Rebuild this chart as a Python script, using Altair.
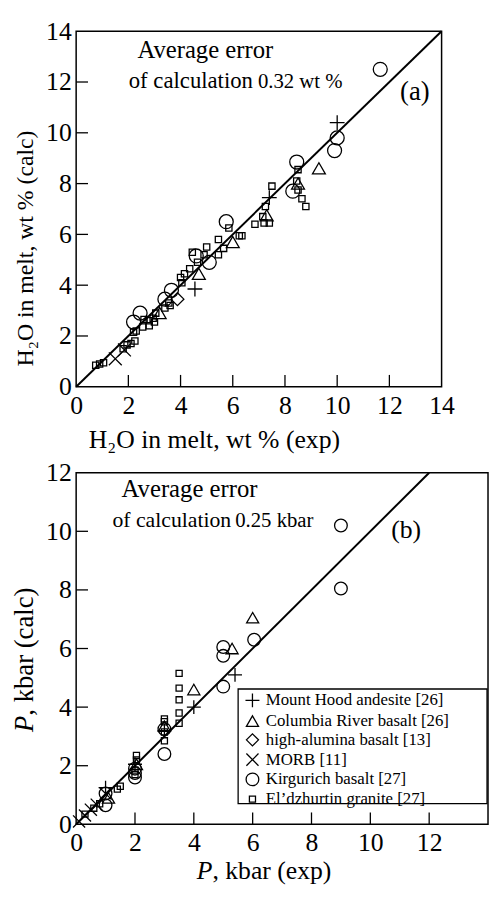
import altair as alt
import pandas as pd

FONT = "Liberation Serif"

# ---------------- data ----------------
series_names = ["Mount Hood andesite [26]", "Columbia River basalt [26]",
                "high-alumina basalt [13]", "MORB [11]",
                "Kirgurich basalt [27]", "El\u2019dzhurtin granite [27]"]

# panel (a): H2O in melt, wt % (exp) vs (calc)
a_hood_x = [10.0, 7.4, 4.55]
a_hood_y = [10.4, 7.45, 3.85]
a_col_x = [9.3, 8.5, 7.3, 6.0, 4.7, 3.2]
a_col_y = [8.6, 8.0, 6.75, 5.7, 4.45, 2.9]
a_hal_x = [3.88]
a_hal_y = [3.45]
a_morb_x = [1.5, 1.85]
a_morb_y = [1.1, 1.45]
a_kir_x = [11.65, 10.0, 9.9, 8.45, 8.3, 5.75, 4.6, 5.1, 3.65, 3.4, 2.45, 2.2]
a_kir_y = [12.5, 9.8, 9.3, 8.85, 7.7, 6.5, 5.15, 4.9, 3.8, 3.45, 2.9, 2.55]
a_eld_x = [8.5, 8.45, 8.5, 8.65, 8.8, 7.5, 7.25, 7.15, 7.2, 7.4, 6.85, 5.85, 6.25, 6.35,
           5.45, 5.65, 5.45, 5.0, 4.45, 4.9, 4.65, 4.35, 4.15, 4.0, 4.05, 3.55, 3.6, 3.4,
           3.05, 2.95, 2.8, 2.6, 2.55, 2.8, 3.0, 2.3, 2.2, 2.25, 2.1, 1.95, 1.8, 1.05, 0.9, 0.75]
a_eld_y = [8.55, 8.1, 7.75, 7.4, 7.1, 7.9, 7.1, 6.7, 6.45, 6.45, 6.4, 6.25, 5.95, 5.95,
           5.8, 5.45, 5.2, 5.5, 5.3, 5.2, 4.9, 4.65, 4.45, 4.3, 4.1, 3.3, 3.2, 3.1,
           2.9, 2.7, 2.6, 2.65, 2.35, 2.4, 2.55, 2.2, 2.15, 1.8, 1.7, 1.65, 1.5, 0.95, 0.9, 0.85]

# panel (b): P, kbar (exp) vs (calc)
b_hood_x = [5.4, 4.0, 3.0, 2.0, 1.0]
b_hood_y = [5.1, 4.0, 3.2, 2.05, 1.25]
b_col_x = [6.0, 5.3, 4.0, 3.0, 2.05, 1.1]
b_col_y = [7.05, 6.0, 4.6, 3.35, 2.05, 0.9]
b_hal_x = []
b_hal_y = []
b_morb_x = [0.1, 0.3, 0.5, 0.7, 1.0]
b_morb_y = [0.1, 0.3, 0.5, 0.67, 1.05]
b_kir_x = [9.0, 9.0, 6.05, 5.0, 5.0, 5.0, 3.0, 3.0, 2.0, 2.0, 2.0, 1.0, 1.0]
b_kir_y = [10.2, 8.05, 6.3, 6.05, 5.75, 4.7, 3.25, 2.4, 1.9, 1.75, 1.6, 1.05, 0.65]
b_eld_x = [3.5, 3.5, 3.5, 3.5, 3.5, 3.0, 3.0, 3.0, 3.0, 2.05, 2.05, 2.0, 2.0, 1.5, 1.4, 0.8, 0.6, 0.3]
b_eld_y = [5.15, 4.65, 4.25, 3.8, 3.45, 3.6, 3.5, 3.15, 2.85, 2.35, 2.2, 1.85, 1.7, 1.3, 1.2, 0.7, 0.55, 0.35]

a_line = [0, 14]
b_line = [0, 12]
a_ticks = [2, 4, 6, 8, 10, 12]
b_xticks = [2, 4, 6, 8, 10, 12]
b_yticks = [2, 4, 6, 8, 10]
a_axis_values = [0, 2, 4, 6, 8, 10, 12, 14]
b_axis_values = [0, 2, 4, 6, 8, 10, 12]

a_texts = ["Average error", "of calculation", "0.32 wt %", "(a)"]
b_texts = ["Average error", "of calculation", "0.25 kbar", "(b)"]
a_xtitle = "H\u2082O in melt, wt % (exp)"
a_ytitle = "H\u2082O in melt, wt % (calc)"
b_title_p = "P"
b_xtitle_rest = ", kbar (exp)"
b_ytitle_rest = ", kbar (calc)"

# ---------------- styles ----------------
shape_range = ["M-1,0L1,0M0,-1L0,1", "triangle-up", "diamond",
               "M-1,-1L1,1M-1,1L1,-1", "circle", "square"]
size_a = [225, 170, 170, 170, 200, 40]
size_b = [200, 150, 150, 150, 165, 38]

WA, HA = 370, 360
WB, HB = 417, 356
TICKFONT = 26


def frame(groups):
    rows = []
    for name, xs, ys in groups:
        for x, y in zip(xs, ys):
            rows.append({"series": name, "x": x, "y": y})
    return pd.DataFrame(rows)


df_a = frame([(series_names[0], a_hood_x, a_hood_y), (series_names[1], a_col_x, a_col_y),
              (series_names[2], a_hal_x, a_hal_y), (series_names[3], a_morb_x, a_morb_y),
              (series_names[4], a_kir_x, a_kir_y), (series_names[5], a_eld_x, a_eld_y)])
df_b = frame([(series_names[0], b_hood_x, b_hood_y), (series_names[1], b_col_x, b_col_y),
              (series_names[2], b_hal_x, b_hal_y), (series_names[3], b_morb_x, b_morb_y),
              (series_names[4], b_kir_x, b_kir_y), (series_names[5], b_eld_x, b_eld_y)])


def make_axis(values, pad):
    return alt.Axis(values=values, ticks=False, domain=False, grid=False, title=None,
                    labelFont=FONT, labelFontSize=TICKFONT, labelColor="black",
                    labelPadding=pad, labelFlush=False, labelOverlap=False, format="d")


def text_layer(txt, x, y, size, align="left", angle=0, style="normal"):
    return alt.Chart(pd.DataFrame({"t": [txt]})).mark_text(
        font=FONT, fontSize=size, align=align, baseline="alphabetic", angle=angle,
        fontStyle=style, color="black").encode(text="t:N", x=alt.value(x), y=alt.value(y))


def panel(df, line_vals, xdom, ydom, xticks, yticks, axis_x, axis_y, sizes, W, H, legend):
    xs = alt.Scale(domain=xdom, nice=False, zero=False)
    ys = alt.Scale(domain=ydom, nice=False, zero=False)
    ax = make_axis(axis_x, 6)
    ay = make_axis(axis_y, 5)
    pts = alt.Chart(df).mark_point(filled=False, strokeWidth=1.3, color="black", opacity=1).encode(
        x=alt.X("x:Q", scale=xs, axis=ax),
        y=alt.Y("y:Q", scale=ys, axis=ay),
        shape=alt.Shape("series:N", scale=alt.Scale(domain=series_names, range=shape_range),
                        legend=legend),
        size=alt.Size("series:N", scale=alt.Scale(type="ordinal", domain=series_names, range=sizes),
                      legend=legend),
    )
    line = alt.Chart(pd.DataFrame({"x": line_vals, "y": line_vals})).mark_line(
        color="black", strokeWidth=2).encode(
        x=alt.X("x:Q", scale=xs, axis=ax), y=alt.Y("y:Q", scale=ys, axis=ay))
    ytk = alt.Chart(pd.DataFrame({"y": yticks})).mark_rule(color="black", strokeWidth=1.3).encode(
        y=alt.Y("y:Q", scale=ys, axis=ay), x=alt.value(0), x2=alt.value(12))
    xtk = alt.Chart(pd.DataFrame({"x": xticks})).mark_rule(color="black", strokeWidth=1.3).encode(
        x=alt.X("x:Q", scale=xs, axis=ax), y=alt.value(H), y2=alt.value(H - 12))
    return [line, ytk, xtk, pts]


layers_a = panel(df_a, a_line, [0, 14], [0, 14], a_ticks, a_ticks, a_axis_values,
                 a_axis_values, size_a, WA, HA, None)
layers_a += [
    text_layer(a_texts[0], 62, 27, 25),
    text_layer(a_texts[1], 179, 58, 23, align="right"),
    text_layer(a_texts[2], 184, 58, 21),
    text_layer(a_texts[3], 328, 70, 27),
    text_layer(a_xtitle, 140, HA + 62, 26, align="center"),
    text_layer(a_ytitle, -44, 220, 24, align="center", angle=270),
]
top = alt.layer(*layers_a).properties(width=WA, height=HA)

legend_b = alt.Legend(title=None, orient="none", legendX=170, legendY=222, padding=0,
                      labelFont=FONT, labelFontSize=17, labelColor="black", labelLimit=400,
                      labelOffset=5, rowPadding=1, symbolStrokeColor="black",
                      symbolStrokeWidth=1.3, symbolFillColor="transparent")

frame_b = alt.Chart(pd.DataFrame({"a": [0]})).mark_rect(
    fill="white", stroke="black", strokeWidth=1.3).encode(
    x=alt.value(164), x2=alt.value(416), y=alt.value(219), y2=alt.value(335))

layers_b = [frame_b] + panel(df_b, b_line, [0, 14], [0, 12], b_xticks, b_yticks, b_axis_values,
                             b_axis_values, size_b, WB, HB, legend_b)
layers_b += [
    text_layer(b_texts[0], 46, 25, 25),
    text_layer(b_texts[1], 157, 55, 22, align="right"),
    text_layer(b_texts[2], 161, 55, 21),
    text_layer(b_texts[3], 319, 66, 26),
    text_layer(b_title_p, 138, HB + 55, 26, align="right", style="italic"),
    text_layer(b_xtitle_rest, 138, HB + 55, 26, align="left"),
    text_layer(b_title_p, -44, 246, 27, align="right", angle=270, style="italic"),
    text_layer(b_ytitle_rest, -44, 246, 27, align="left", angle=270),
]
bottom = alt.layer(*layers_b).properties(width=WB, height=HB)

chart = alt.vconcat(top, bottom, spacing=5).resolve_scale(
    shape="independent", size="independent").properties(
    padding={"left": 2, "top": 4, "right": 0, "bottom": 0}
).configure(background="white").configure_view(stroke="black", strokeWidth=1.5)

chart.save("out.html", embed_options={"renderer": "svg", "actions": False})
